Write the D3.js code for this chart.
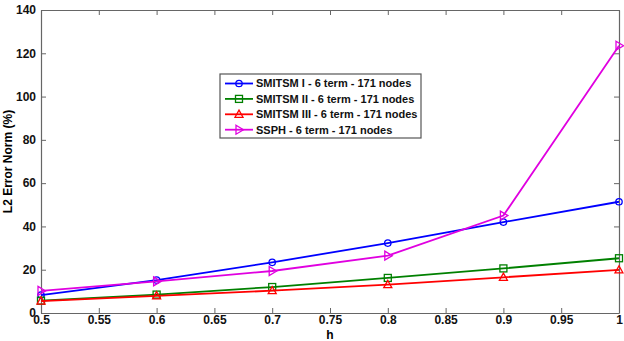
<!DOCTYPE html>
<html>
<head>
<meta charset="utf-8">
<script src="https://cdn.jsdelivr.net/npm/d3@7"></script>
<style>
  body { margin: 0; background: #fff; }
  text { font-family: "Liberation Sans", Arial, sans-serif; }
</style>
</head>
<body>
<div id="chart"></div>
<script>
// data
var hValues = [0.5, 0.6, 0.7, 0.8, 0.9, 1.0];
var smitsm1 = [8.3, 15.2, 23.4, 32.3, 42.0, 51.4];
var smitsm2 = [5.7, 8.5, 12.0, 16.2, 20.6, 25.3];
var smitsm3 = [5.5, 7.9, 10.3, 13.1, 16.5, 19.9];
var ssph = [10.2, 14.6, 19.4, 26.5, 45.0, 123.5];
var seriesNames = ["SMITSM I - 6 term - 171 nodes", "SMITSM II - 6 term - 171 nodes",
  "SMITSM III - 6 term - 171 nodes", "SSPH - 6 term - 171 nodes"];
var xTicks = [0.5, 0.55, 0.6, 0.65, 0.7, 0.75, 0.8, 0.85, 0.9, 0.95, 1];
var yTicks = [0, 20, 40, 60, 80, 100, 120, 140];

var width = 624, height = 341;
var margin = {top: 10, right: 5, bottom: 28, left: 41};
var colors = ["#0000ff", "#008000", "#ff0000", "#e000e0"];
var markers = ["circle", "square", "triangle", "right"];
var allSeries = [smitsm1, smitsm2, smitsm3, ssph];

var svg = d3.select("#chart").append("svg")
  .attr("width", width)
  .attr("height", height);

var x = d3.scaleLinear().domain([0.5, 1]).range([margin.left, width - margin.right]);
var y = d3.scaleLinear().domain([0, 140]).range([height - margin.bottom, margin.top]);

var axisColor = "#666";

// axes with inward ticks, matlab style
var gx = svg.append("g")
  .attr("transform", "translate(0," + y(0) + ")")
  .call(d3.axisBottom(x).tickValues(xTicks).tickSizeInner(-5).tickSizeOuter(0)
    .tickPadding(4).tickFormat(d3.format("~g")));
var gxTop = svg.append("g")
  .attr("transform", "translate(0," + y(140) + ")")
  .call(d3.axisTop(x).tickValues(xTicks).tickSizeInner(-5).tickSizeOuter(0).tickFormat(""));
var gy = svg.append("g")
  .attr("transform", "translate(" + x(0.5) + ",0)")
  .call(d3.axisLeft(y).tickValues(yTicks).tickSizeInner(-5).tickSizeOuter(0).tickPadding(5));
var gyRight = svg.append("g")
  .attr("transform", "translate(" + x(1) + ",0)")
  .call(d3.axisRight(y).tickValues(yTicks).tickSizeInner(-5).tickSizeOuter(0).tickFormat(""));

[gx, gxTop, gy, gyRight].forEach(function (g) {
  g.selectAll("path").attr("stroke", axisColor).attr("stroke-width", 1.2);
  g.selectAll("line").attr("stroke", axisColor);
  g.selectAll("text")
    .style("font-size", "12px")
    .style("font-weight", "bold")
    .attr("fill", "#111");
});
gx.selectAll("text").attr("dy", "0.6em");

// axis labels
svg.append("text")
  .attr("x", (x(0.5) + x(1)) / 2)
  .attr("y", 339)
  .attr("text-anchor", "middle")
  .style("font-size", "12px")
  .style("font-weight", "bold")
  .text("h");

svg.append("text")
  .attr("transform", "translate(12," + ((y(0) + y(140)) / 2) + ") rotate(-90)")
  .attr("text-anchor", "middle")
  .style("font-size", "12px")
  .style("font-weight", "bold")
  .text("L2 Error Norm (%)");

function drawMarker(g, type, color) {
  if (type === "circle") {
    g.append("circle").attr("r", 3.2);
  } else if (type === "square") {
    g.append("rect").attr("x", -3.5).attr("y", -3.5).attr("width", 7).attr("height", 7);
  } else if (type === "triangle") {
    g.append("path").attr("d", "M0,-4.2L4,3L-4,3Z");
  } else {
    g.append("path").attr("d", "M-3,-4.5L4.5,0L-3,4.5Z");
  }
  g.selectAll("*").attr("fill", "none").attr("stroke", color).attr("stroke-width", 1.3);
}

var line = d3.line()
  .x(function (d) { return x(d[0]); })
  .y(function (d) { return y(d[1]); });

allSeries.forEach(function (vals, i) {
  var pts = hValues.map(function (h, j) { return [h, vals[j]]; });
  svg.append("path")
    .datum(pts)
    .attr("d", line)
    .attr("fill", "none")
    .attr("stroke", colors[i])
    .attr("stroke-width", 1.8);
  pts.forEach(function (p) {
    var g = svg.append("g").attr("transform", "translate(" + x(p[0]) + "," + y(p[1]) + ")");
    drawMarker(g, markers[i], colors[i]);
  });
});

// legend
var legend = svg.append("g").attr("transform", "translate(220,74)");
legend.append("rect")
  .attr("width", 201)
  .attr("height", 64)
  .attr("fill", "#fff")
  .attr("stroke", "#555")
  .attr("stroke-width", 1.2);

seriesNames.forEach(function (name, i) {
  var row = legend.append("g").attr("transform", "translate(0," + (9.5 + i * 15.4) + ")");
  row.append("line")
    .attr("x1", 5).attr("x2", 33)
    .attr("stroke", colors[i]).attr("stroke-width", 1.8);
  drawMarker(row.append("g").attr("transform", "translate(19,0)"), markers[i], colors[i]);
  row.append("text")
    .attr("x", 36)
    .attr("dy", "0.35em")
    .style("font-size", "11px")
    .style("font-weight", "bold")
    .attr("fill", "#111")
    .text(name);
});
</script>
</body>
</html>
